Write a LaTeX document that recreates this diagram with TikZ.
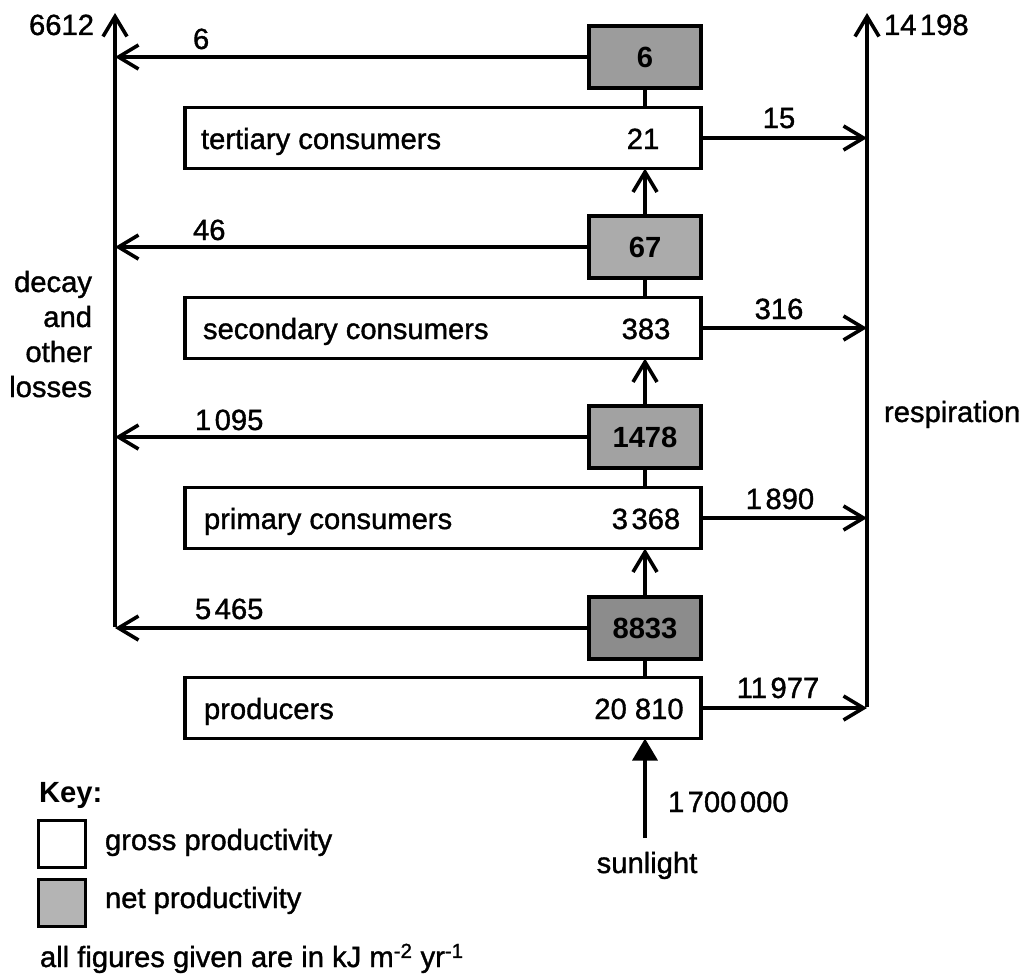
\documentclass[tikz,border=0pt]{standalone}
\usepackage{fontspec}
\setmainfont{Liberation Sans}[FakeBold=1.2]
\newfontfamily\boldfam{Liberation Sans Bold}
\usetikzlibrary{arrows.meta}
\newcommand\tsp{\kern0.12em}
\definecolor{netA}{HTML}{9C9C9C}
\definecolor{netB}{HTML}{ABABAB}
\definecolor{netC}{HTML}{A2A2A2}
\definecolor{netD}{HTML}{8C8C8C}
\definecolor{keygray}{HTML}{B4B4B4}
\begin{document}
\begin{tikzpicture}[x=1pt,y=-1pt, line width=3.6pt,
  every node/.style={inner sep=0pt, outer sep=0pt, font=\fontsize{29.2}{35}\selectfont},
  gross/.style={draw, fill=white, minimum width=516pt, minimum height=61pt},
  net/.style={draw, minimum width=112pt, minimum height=62pt},
  lbl/.style={anchor=base west},
  clbl/.style={anchor=base},
  rtxt/.style={anchor=base east},
  netnum/.style={anchor=base, font=\fontsize{29.2}{35}\boldfam},
  flow/.style={-{Straight Barb[length=20pt,width=24pt]}},
  keybox/.style={draw, line width=3pt, minimum width=47pt, minimum height=47pt},
]
\useasboundingbox (0,0) rectangle (1025,974);

% side lines
\coordinate (Ltop) at (115,13);
\coordinate (Lbot) at (115,627);
\coordinate (Rtop) at (867,13);
\coordinate (Rbot) at (867,707);
\draw[flow] (Lbot) -- (Ltop);
\draw[flow] (Rbot) -- (Rtop);
\node[rtxt] (lossTot) at (94,35) {6612};
\node[lbl] (respTot) at (884,35) {14\tsp198};

% gross boxes
\node[gross] (tert) at (443,138) {};
\node[gross] (sec)  at (443,328) {};
\node[gross] (prim) at (443,518) {};
\node[gross] (prod) at (443,708) {};
\node[lbl] (tertT) at (201,149) {tertiary consumers};
\node[lbl] (secT)  at (203,339) {secondary consumers};
\node[lbl] (primT) at (204,529) {primary consumers};
\node[lbl] (prodT) at (204,719) {producers};
\node[clbl] (tertN) at (643,149) {21};
\node[clbl] (secN)  at (646,339) {383};
\node[clbl] (primN) at (646,529) {3\tsp368};
\node[clbl] (prodN) at (639,719) {20 810};

% net boxes
\node[net, fill=netA] (n1) at (645,57)  {};
\node[net, fill=netB] (n2) at (645,247) {};
\node[net, fill=netC] (n3) at (645,437) {};
\node[net, fill=netD] (n4) at (645,628) {};
\node[netnum] (n1T) at (645,67)  {6};
\node[netnum] (n2T) at (645,257) {67};
\node[netnum] (n3T) at (645,447) {1478};
\node[netnum] (n4T) at (645,638) {8833};

% gross -> net (plain), net -> next gross (arrow)
\draw (n1.south) -- (n1.south |- tert.north);
\draw (n2.south) -- (n2.south |- sec.north);
\draw (n3.south) -- (n3.south |- prim.north);
\draw (n4.south) -- (n4.south |- prod.north);
\draw[flow] (n2.north) -- (n2.north |- tert.south);
\draw[flow] (n3.north) -- (n3.north |- sec.south);
\draw[flow] (n4.north) -- (n4.north |- prim.south);

% losses to the left
\draw[flow] (n1.west) -- (n1.west -| Lbot);
\draw[flow] (n2.west) -- (n2.west -| Lbot);
\draw[flow] (n3.west) -- (n3.west -| Lbot);
\draw[flow] (n4.west) -- (n4.west -| Lbot);
\node[lbl] (l1) at (193,49)  {6};
\node[lbl] (l2) at (193,240) {46};
\node[lbl] (l3) at (195,430) {1\tsp095};
\node[lbl] (l4) at (195,619) {5\tsp465};

% respiration to the right
\draw[flow] (tert.east) -- (tert.east -| Rbot);
\draw[flow] (sec.east)  -- (sec.east -| Rbot);
\draw[flow] (prim.east) -- (prim.east -| Rbot);
\draw[flow] (prod.east) -- (prod.east -| Rbot);
\node[clbl] (r1) at (779,128) {15};
\node[clbl] (r2) at (779,319) {316};
\node[clbl] (r3) at (780,509) {1\tsp890};
\node[clbl] (r4) at (778,698) {11\tsp977};

% side labels
\node[rtxt] (d1) at (92,292) {decay};
\node[rtxt] (d2) at (92,327) {and};
\node[rtxt] (d3) at (92,362) {other};
\node[rtxt] (d4) at (92,397) {losses};
\node[lbl] (resp) at (884,422) {respiration};

% sunlight
\coordinate (sun) at (645,838);
\draw[-{Triangle[length=22pt,width=25pt]}] (sun) -- (sun |- prod.south);
\node[lbl] (sunV) at (668,812) {1\tsp700\tsp000};
\node[clbl] (sunT) at (647,873) {sunlight};

% key
\node[lbl] (keyT) at (39,802) {\boldfam Key:};
\node[keybox, fill=white] (kg) at (61.5,843.5) {};
\node[keybox, fill=keygray] (kn) at (61.5,902.5) {};
\node[lbl] (kgT) at (105,850) {gross productivity};
\node[lbl] (knT) at (105,908) {net productivity};
\node[lbl] (units) at (40,967) {all figures given are in kJ m\textsuperscript{-2} yr\textsuperscript{-1}};
\end{tikzpicture}
\end{document}
